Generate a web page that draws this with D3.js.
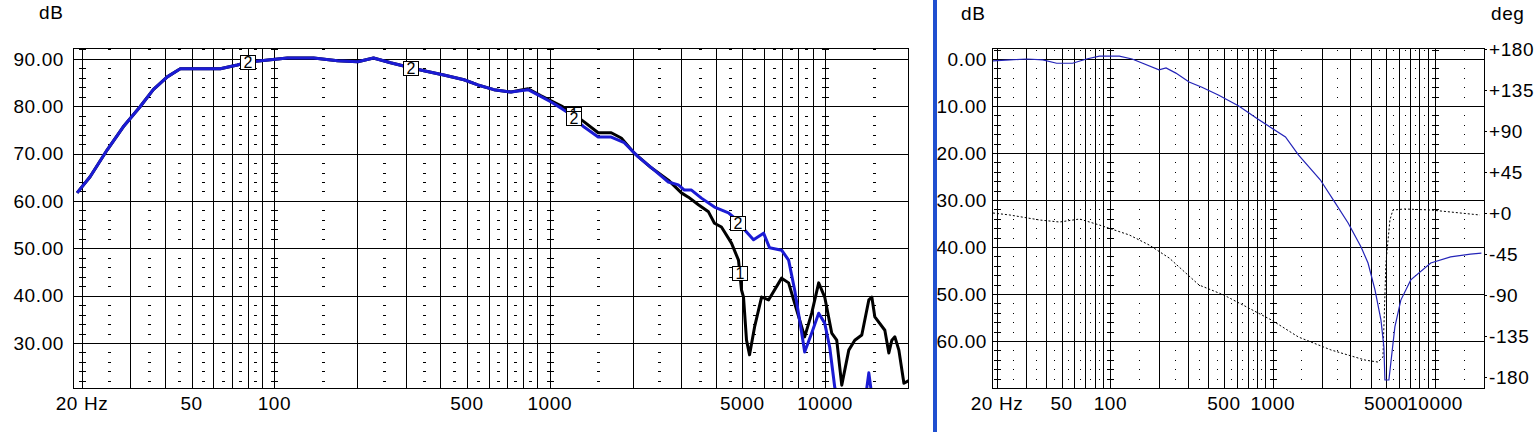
<!DOCTYPE html>
<html lang="en">
<head>
<meta charset="UTF-8" />
<title>Frequency response and transfer function</title>
<script src="https://d3js.org/d3.v7.min.js"></script>
<style>
  body { margin: 0; background: #fff; }
  svg { display: block; }
  text { font-family: "Liberation Sans", Arial, sans-serif; font-size: 19px; fill: #000; letter-spacing: 0.6px; }
  .grid { stroke: #000; stroke-width: 1; shape-rendering: crispEdges; fill: none; }
  .box text { font-size: 16px; letter-spacing: 0; }
</style>
</head>
<body>
<svg id="chart" width="1535" height="432"></svg>
<script>
// ---- left panel: SPL of two measurements ----
const curve2Freq = [19.2, 21.4, 24.7, 28.2, 32.5, 36.3, 40.8, 45.5, 55.1, 63.6, 73.3, 81.8, 96.7, 111.5, 138.7, 169.5, 200.6, 229, 264, 295, 349, 412, 488, 548, 627, 723, 834, 906, 1011, 1100, 1166, 1333, 1499, 1672, 1864, 2096, 2396, 2696, 2931, 3082, 3270, 3554, 3964, 4457, 4686, 5096, 5495, 5977, 6286, 6950, 7370, 7752, 8222, 8428, 8940, 9476, 9966, 10392, 10836, 11492, 12498, 13820, 14172, 14412, 14656, 15030, 16760, 20320];
const curve2Db = [61.7, 65.1, 70.8, 75.6, 79.9, 83.5, 86.2, 87.9, 87.9, 87.9, 88.7, 89.4, 89.8, 90.2, 90.2, 89.6, 89.4, 90.2, 89.2, 88.5, 87.5, 86.6, 85.6, 84.5, 83.5, 83.0, 83.5, 82.4, 80.9, 79.6, 78.6, 75.6, 73.5, 73.5, 72.3, 69.3, 66.5, 64.0, 63.4, 62.3, 62.3, 60.6, 58.7, 57.5, 56.4, 53.9, 51.8, 53.2, 50.1, 49.6, 47.5, 41.2, 32.1, 28.1, 32.1, 36.3, 34.2, 29.1, 20.7, 16, 12, 15, 20.5, 23.7, 20.5, 15, 10, 8];

const curve1Freq = [19.2, 21.4, 24.7, 28.2, 32.5, 36.3, 40.8, 45.5, 55.1, 63.6, 73.3, 81.8, 96.7, 111.5, 138.7, 169.5, 200.6, 229, 264, 295, 349, 412, 488, 548, 627, 723, 834, 930, 1099, 1166, 1333, 1499, 1672, 1818, 2027, 2337, 2696, 3006, 3188, 3466, 3770, 3964, 4202, 4570, 4846, 4970, 5054, 5182, 5316, 5544, 5878, 6232, 6950, 7370, 7752, 8428, 8940, 9476, 9966, 10568, 11020, 11492, 12188, 12816, 13590, 14412, 14780, 15156, 16478, 17040, 17474, 17920, 18530, 19326, 20320];
const curve1Db = [61.7, 65.1, 70.8, 75.6, 79.9, 83.5, 86.2, 87.9, 87.9, 87.9, 88.7, 89.4, 89.8, 90.2, 90.2, 89.6, 89.4, 90.2, 89.2, 88.5, 87.5, 86.6, 85.6, 84.5, 83.5, 83.0, 83.7, 82.2, 80.1, 79.2, 76.7, 74.4, 74.4, 73.3, 70.1, 67.0, 64.4, 61.7, 60.8, 59.2, 57.7, 55.3, 54.5, 51.1, 47.5, 41.2, 39.7, 30.6, 27.5, 33.4, 39.7, 39.1, 43.7, 42.7, 38.4, 31.3, 36.3, 42.7, 39.7, 32.1, 30.6, 21.1, 28.5, 30.6, 31.7, 39.1, 39.7, 35.5, 32.7, 27.9, 30.6, 31.3, 28.5, 21.5, 22.2];

const curve1Markers = [1225, 4900];
const curve2Markers = [80, 312, 1225, 4846];

const splTicks = [30, 40, 50, 60, 70, 80, 90];
const splTickLabels = ["30.00", "40.00", "50.00", "60.00", "70.00", "80.00", "90.00"];

// ---- right panel: transfer function magnitude and phase ----
const magFreq = [18.9, 24.0, 30.5, 38.3, 46.6, 58.4, 71.2, 85.5, 113.4, 136, 199, 220, 253, 305, 366, 465, 617, 795, 1197, 1438, 1960, 2424, 2911, 3497, 3860, 4260, 4636, 4836, 4904, 5190, 5650, 6148, 7080, 9392, 12452, 16508, 19280];
const magDb = [-0.4, -0.2, 0, -0.2, -0.9, -0.9, 0, 0.6, 0.6, 0, -2.3, -1.9, -3.0, -4.9, -6.0, -7.7, -10.0, -12.6, -16.6, -20.4, -25.7, -30.6, -34.9, -40.0, -43.4, -49.1, -55.5, -61.3, -68.3, -68.3, -57.0, -51.3, -47.0, -43.4, -42.1, -41.5, -41.3];

const phaseFreq = [18.9, 24.0, 36.7, 48.6, 64.5, 85.5, 130.6, 173, 230, 351, 499, 710, 982, 1438, 2290, 3700, 4446, 4770, 4976, 5266, 5494, 6506, 9392, 12452, 18870];
const phaseDeg = [0, -2.2, -7.7, -9.9, -6.6, -13.2, -24.1, -35.1, -49.4, -79.0, -90.0, -104.3, -117.5, -136.1, -150.4, -161.4, -163.6, -158.1, -54.9, -7.7, 3.3, 4.4, 3.3, 1.1, -2.2];

const magTicks = [0, -10, -20, -30, -40, -50, -60];
const magTickLabels = ["0.00", "10.00", "20.00", "30.00", "40.00", "50.00", "60.00"];
const phaseTicks = [180, 135, 90, 45, 0, -45, -90, -135, -180];
const phaseTickLabels = ["+180", "+135", "+90", "+45", "+0", "-45", "-90", "-135", "-180"];

const freqTicks = [20, 50, 100, 500, 1000, 5000, 10000];
const freqTickLabels = ["20 Hz", "50", "100", "500", "1000", "5000", "10000"];

const svg = d3.select("#chart");
const px = (v) => Math.round(v) + 0.5;

// log-frequency grid positions
const decades = [10, 100, 1000, 10000];
const majorFreqs = [];
const midFreqs = [];
decades.forEach((d) => {
  for (let m = 1; m <= 9; m++) {
    if (m * d >= 20 && m * d <= 20000) majorFreqs.push(m * d);
    if (m <= 8 && (m + 0.5) * d >= 20 && (m + 0.5) * d <= 20000) midFreqs.push((m + 0.5) * d);
  }
});
const tickLineFreqs = [20, 100, 1000, 10000];

function zipData(fs, vs) {
  return fs.map((f, i) => ({ f: f, v: vs[i] }));
}

function valueAt(fs, vs, f) {
  const i = Math.max(1, Math.min(fs.length - 1, d3.bisectLeft(fs, f)));
  const t = (Math.log(f) - Math.log(fs[i - 1])) / (Math.log(fs[i]) - Math.log(fs[i - 1]));
  return vs[i - 1] + t * (vs[i] - vs[i - 1]);
}

function drawPanel(opt) {
  const { x, y, box, hTicks, dashValues, dashHalf, id } = opt;
  const g = svg.append("g");

  // vertical major lines
  g.selectAll(".vmaj")
    .data(majorFreqs)
    .enter()
    .append("line")
    .attr("class", "grid")
    .attr("x1", (d) => px(x(d)))
    .attr("x2", (d) => px(x(d)))
    .attr("y1", box.top)
    .attr("y2", box.bottom);

  // horizontal major lines
  g.selectAll(".hmaj")
    .data(hTicks)
    .enter()
    .append("line")
    .attr("class", "grid")
    .attr("x1", box.left)
    .attr("x2", box.right)
    .attr("y1", (d) => px(y(d)))
    .attr("y2", (d) => px(y(d)));

  // dotted mid columns and small ticks on decade lines
  const cols = midFreqs.map((f) => ({ f: f, w: dashHalf })).concat(tickLineFreqs.map((f) => ({ f: f, w: 3 })));
  cols.forEach((c) => {
    g.selectAll(null)
      .data(dashValues)
      .enter()
      .append("line")
      .attr("class", "grid")
      .attr("x1", Math.round(x(c.f)) - c.w)
      .attr("x2", Math.round(x(c.f)) + c.w + 1)
      .attr("y1", (d) => px(y(d)))
      .attr("y2", (d) => px(y(d)));
  });

  // frame
  g.append("rect")
    .attr("class", "grid")
    .attr("x", box.left + 0.5)
    .attr("y", box.top + 0.5)
    .attr("width", box.right - box.left)
    .attr("height", box.bottom - box.top);

  svg.append("clipPath")
    .attr("id", id)
    .append("rect")
    .attr("x", box.left + 1)
    .attr("y", box.top + 1)
    .attr("width", box.right - box.left - 1)
    .attr("height", box.bottom - box.top - 1);

  // frequency labels
  g.selectAll(".xlab")
    .data(freqTicks)
    .enter()
    .append("text")
    .attr("x", (d) => x(d))
    .attr("y", 410)
    .attr("text-anchor", "middle")
    .text((d, i) => freqTickLabels[i]);

  return g;
}

// ===== left panel =====
const boxL = { left: 73, right: 908, top: 48, bottom: 388 };
const xL = d3.scaleLog().domain([20, 20000]).range([82, 908]);
const yL = d3.scaleLinear().domain([20.5, 92.3]).range([388, 48]);

drawPanel({
  x: xL,
  y: yL,
  box: boxL,
  hTicks: splTicks,
  dashValues: d3.range(22, 93, 2).filter((v) => v % 10 !== 0),
  dashHalf: 1,
  id: "clipL",
});

const lineL = d3
  .line()
  .x((d) => xL(d.f))
  .y((d) => yL(d.v));

const curvesL = svg.append("g").attr("clip-path", "url(#clipL)");
curvesL.append("path")
  .datum(zipData(curve1Freq, curve1Db))
  .attr("d", lineL)
  .attr("fill", "none")
  .attr("stroke", "#000")
  .attr("stroke-width", 3)
  .attr("stroke-linejoin", "round");
curvesL.append("path")
  .datum(zipData(curve2Freq, curve2Db))
  .attr("d", lineL)
  .attr("fill", "none")
  .attr("stroke", "#1b1bd4")
  .attr("stroke-width", 3)
  .attr("stroke-linejoin", "round");

const markerData = curve1Markers
  .map((f) => ({ f: f, v: valueAt(curve1Freq, curve1Db, f), label: "1" }))
  .concat(curve2Markers.map((f) => ({ f: f, v: valueAt(curve2Freq, curve2Db, f), label: "2" })));

const boxes = svg.selectAll(".box").data(markerData).enter().append("g").attr("class", "box");
boxes.append("rect")
  .attr("x", (d) => Math.round(xL(d.f)) - 8 + 0.5)
  .attr("y", (d) => Math.round(yL(d.v)) - 7 + 0.5)
  .attr("width", 15)
  .attr("height", 14)
  .attr("fill", "#fff")
  .attr("stroke", "#000");
boxes.append("text")
  .attr("x", (d) => Math.round(xL(d.f)))
  .attr("y", (d) => Math.round(yL(d.v)) + 6)
  .attr("text-anchor", "middle")
  .text((d) => d.label);

svg.selectAll(".ylabL")
  .data(splTicks)
  .enter()
  .append("text")
  .attr("x", 64)
  .attr("y", (d) => yL(d))
  .attr("dy", "0.35em")
  .attr("text-anchor", "end")
  .text((d, i) => splTickLabels[i]);

svg.append("text").attr("x", 39).attr("y", 19).text("dB");

// ===== separator =====
svg.append("rect").attr("x", 933).attr("y", 0).attr("width", 4).attr("height", 432).attr("fill", "#1f4fd0");

// ===== right panel =====
const boxR = { left: 992, right: 1484, top: 48, bottom: 388 };
const xR = d3.scaleLog().domain([20, 20000]).range([997, 1484]);
const yR = d3.scaleLinear().domain([2.34, -70]).range([48, 388]);
const yP = d3.scaleLinear().domain([180, -180]).range([49, 377]);

drawPanel({
  x: xR,
  y: yR,
  box: boxR,
  hTicks: magTicks,
  dashValues: d3.range(-68, 3, 2).filter((v) => v % 10 !== 0),
  dashHalf: 0,
  id: "clipR",
});

const curvesR = svg.append("g").attr("clip-path", "url(#clipR)");
curvesR.append("path")
  .datum(zipData(phaseFreq, phaseDeg))
  .attr("d", d3.line().x((d) => xR(d.f)).y((d) => yP(d.v)))
  .attr("fill", "none")
  .attr("stroke", "#000")
  .attr("stroke-width", 1)
  .attr("stroke-dasharray", "2,2");
curvesR.append("path")
  .datum(zipData(magFreq, magDb))
  .attr("d", d3.line().x((d) => xR(d.f)).y((d) => yR(d.v)))
  .attr("fill", "none")
  .attr("stroke", "#2424b8")
  .attr("stroke-width", 1.2);

svg.append("clipPath").attr("id", "clipLab").append("rect").attr("x", 937).attr("y", 0).attr("width", 60).attr("height", 432);
svg.append("g")
  .attr("clip-path", "url(#clipLab)")
  .selectAll("text")
  .data(magTicks)
  .enter()
  .append("text")
  .attr("x", 987)
  .attr("y", (d) => yR(d))
  .attr("dy", "0.35em")
  .attr("text-anchor", "end")
  .text((d, i) => magTickLabels[i]);

svg.selectAll(".ptick")
  .data(phaseTicks)
  .enter()
  .append("line")
  .attr("class", "grid")
  .attr("x1", boxR.right)
  .attr("x2", boxR.right + 3)
  .attr("y1", (d) => px(yP(d)))
  .attr("y2", (d) => px(yP(d)));

svg.selectAll(".plab")
  .data(phaseTicks)
  .enter()
  .append("text")
  .attr("x", 1489)
  .attr("y", (d) => yP(d))
  .attr("dy", "0.35em")
  .text((d, i) => phaseTickLabels[i]);

svg.append("text").attr("x", 961).attr("y", 20).text("dB");
svg.append("text").attr("x", 1491).attr("y", 20).text("deg");
</script>
</body>
</html>
